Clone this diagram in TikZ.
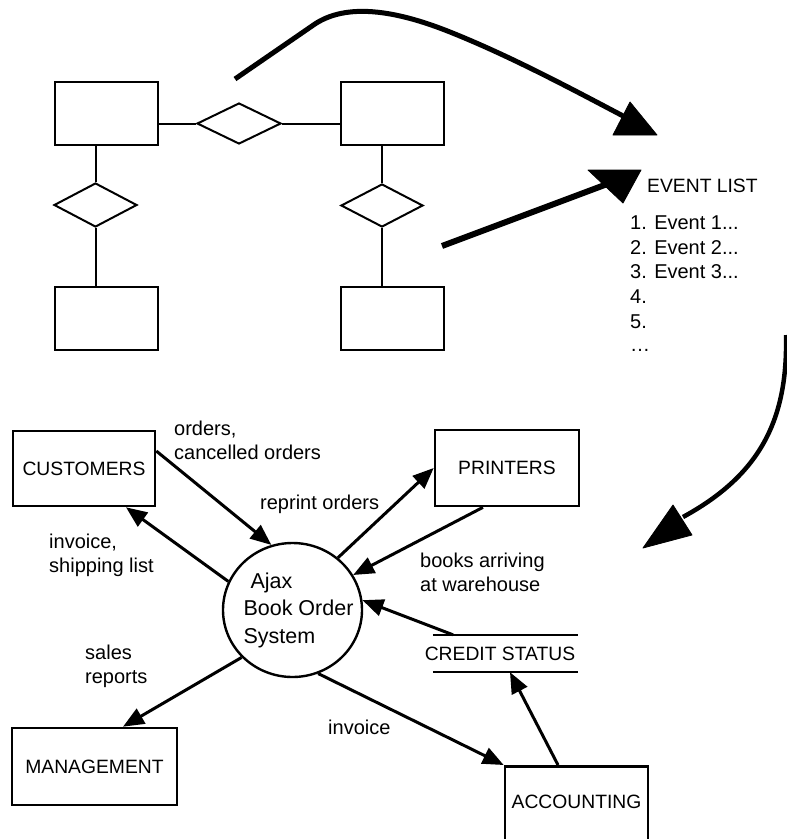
\documentclass[tikz,border=0pt]{standalone}
\usepackage{fontspec}
\setmainfont{Liberation Sans}
\usetikzlibrary{arrows.meta,shapes.geometric}
\newcommand\dfdcaps{\fontsize{19.3}{24}\selectfont}
\newcommand\dfdlow{\fontsize{20}{24}\selectfont}
\newcommand\dfdsys{\fontsize{21.5}{27.5}\selectfont}
\begin{document}
\begin{tikzpicture}[x=1pt,y=-1pt,
  erbox/.style={draw, line width=2pt, minimum width=103pt, minimum height=63pt, inner sep=0pt},
  erdia/.style={draw, diamond, line width=2pt, inner sep=0pt},
  erline/.style={line width=2pt},
  ent/.style={draw, line width=2.6pt, inner sep=0pt, font=\dfdcaps},
  flow/.style={line width=3pt, -{Triangle[length=21pt,width=17pt]}},
  lbl/.style={font=\dfdlow, inner sep=0pt, align=left},
  big/.style={line width=5pt},
  bighead/.style={fill=black, draw=black, line width=0.8pt, line join=round},
]
\useasboundingbox (0,0) rectangle (787,839);
\clip (0,0) rectangle (787,839);

% ---------- ER diagram ----------
\node[erbox] (e1) at (106.5,113) {};
\node[erbox] (e2) at (392.5,113.5) {};
\node[erbox] (e3) at (106.5,318) {};
\node[erbox] (e4) at (392.5,318) {};
\node[erdia, minimum width=84pt, minimum height=41pt] (r1) at (239,123.5) {};
\node[erdia, minimum width=83pt, minimum height=44pt] (r2) at (95.5,205) {};
\node[erdia, minimum width=82pt, minimum height=43pt] (r3) at (382,205.5) {};
\draw[erline] (e1.east |- r1.west) -- (r1.west);
\draw[erline] (r1.east) -- (e2.west |- r1.east);
\draw[erline] (e1.south -| r2.north) -- (r2.north);
\draw[erline] (r2.south) -- (e3.north -| r2.south);
\draw[erline] (e2.south -| r3.north) -- (r3.north);
\draw[erline] (r3.south) -- (e4.north -| r3.south);

% ---------- Event list ----------
\node[lbl, font=\dfdcaps, anchor=west] (evt) at (647,186) {EVENT LIST};
\node[lbl, anchor=west] (ev1) at (630,223) {1. Event 1...};
\node[lbl, anchor=west] (ev2) at (630,247.5) {2. Event 2...};
\node[lbl, anchor=west] (ev3) at (630,272) {3. Event 3...};
\node[lbl, anchor=west] (ev4) at (630,297) {4.};
\node[lbl, anchor=west] (ev5) at (630,322) {5.};
\node[lbl, anchor=west] (ev6) at (630,350) {…};

% ---------- big arrows ----------
\coordinate (a1s) at (235,79);
\coordinate (a1e) at (625,117);
\draw[big] (a1s) -- (312,26) .. controls (338,7) and (380,4) .. (450,32) .. controls (510,56) and (570,88) .. (a1e);
\filldraw[bighead] (613,135) -- (657,135) -- (630,102) -- cycle;

\coordinate (a2s) at (442,246);
\coordinate (a2e) at (610,183);
\draw[big, line width=6pt] (a2s) -- (a2e);
\filldraw[bighead] (588,170) -- (641,170) -- (623,203) -- cycle;

\coordinate (a3s) at (786,335);
\coordinate (a3e) at (683,517);
\draw[big, line width=4.5pt] (a3s) .. controls (788,420) and (760,475) .. (a3e);
\filldraw[bighead] (673,505) -- (692,535) -- (643,548) -- cycle;

% ---------- DFD ----------
\node[ent, minimum width=142pt, minimum height=75pt] (cust) at (84,468.5) {CUSTOMERS};
\node[ent, minimum width=144pt, minimum height=76pt] (prn) at (507,468) {PRINTERS};
\node[ent, minimum width=165pt, minimum height=77pt] (mgmt) at (94.5,766.5) {MANAGEMENT};
\node[ent, minimum width=143pt, minimum height=84pt, anchor=north,
      label={[yshift=6pt,font=\dfdcaps]center:ACCOUNTING}] (acct) at (576.5,765) {};
\node[draw, ellipse, line width=2.4pt, minimum width=139pt, minimum height=134pt, inner sep=0pt,
      label={[xshift=6pt,align=left,font=\dfdsys]center:{\hspace*{7pt}Ajax\\Book Order\\System}}] (sys) at (292.5,610) {};

\node[minimum width=145pt, minimum height=37pt, inner sep=0pt] (cstore) at (505.5,653.5) {};
\draw[line width=2.5pt] (cstore.north west) -- (cstore.north east);
\draw[line width=2.5pt] (cstore.south west) -- (cstore.south east);
\node[lbl, font=\dfdcaps] (cred) at (500,653.5) {CREDIT STATUS};

\draw[flow] ([yshift=17.5pt]cust.east) -- (sys.108);
\draw[flow] (sys.156) -- ([xshift=42pt]cust.south);
\draw[flow] (sys.49) -- (prn.west);
\draw[flow] ([xshift=-24pt]prn.south) -- (sys.30);
\draw[flow] ([xshift=-52.5pt]cstore.north) -- (sys.8);
\draw[flow] (sys.223) -- ([xshift=28.5pt]mgmt.north);
\draw[flow] (sys.292) -- (acct.north west);
\draw[flow] ([xshift=-18.5pt]acct.north) -- ([xshift=4.5pt]cstore.south);

\node[lbl, anchor=west] (l1) at (174,440) {orders,\\cancelled orders};
\node[lbl, anchor=west] (l2) at (260,504) {reprint orders};
\node[lbl, anchor=west] (l3) at (49,555) {invoice,\\shipping list};
\node[lbl, anchor=west] (l4) at (420,572.5) {books arriving\\at warehouse};
\node[lbl, anchor=west] (l5) at (85,666) {sales\\reports};
\node[lbl, anchor=west] (l6) at (328,727) {invoice};
\end{tikzpicture}
\end{document}
